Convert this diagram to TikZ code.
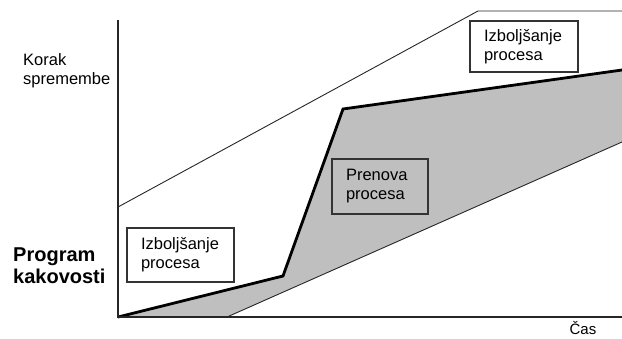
\documentclass[tikz,border=0pt]{standalone}
\usepackage{fontspec}
\setmainfont{Liberation Sans}
\begin{document}
\begin{tikzpicture}[x=1pt,y=-1pt,
  thinline/.style={draw=black!85,line width=0.9pt},
  thickline/.style={draw=black,line width=2.8pt,line join=miter},
  region/.style={fill=black!25},
  labelbox/.style={draw=black!80,line width=1.1pt,align=left,
    inner xsep=14pt,inner ysep=0pt,font=\fontsize{16.5}{19}\selectfont},
  axislabel/.style={anchor=base west,align=left,inner sep=0pt,
    font=\fontsize{16.5}{19}\selectfont}]
\useasboundingbox (0,0) rectangle (622,338);

% named points of the curves
\coordinate (O) at (118,317);
\coordinate (ytop) at (118,20);
\coordinate (xend) at (622,317);
\coordinate (k1) at (283,276);
\coordinate (k2) at (343,109);
\coordinate (kend) at (622,70);
\coordinate (lstart) at (227,317);
\coordinate (lend) at (622,142);
\coordinate (ustart) at (118,207);
\coordinate (ukink) at (478,11);
\coordinate (uend) at (622,11);

% shaded band between the quality-programme path and the lower bound
\fill[region] (O) -- (k1) -- (k2) -- (kend) -- (lend) -- (lstart) -- cycle;
\draw[thinline] (lstart) -- (lend);
\draw[thinline] (ustart) -- (ukink) -- (uend);
\draw[thickline] (O) -- (k1) -- (k2) -- (kend);

% axes
\draw[line width=1.1pt,black!85] (ytop) -- (O) -- (xend);

% boxes
\node[labelbox,fill=white,minimum width=107pt,minimum height=54pt,text width=79pt]
  (b1) at (180.5,255) {Izboljšanje\\procesa};
\node[labelbox,fill=white,minimum width=108pt,minimum height=51pt,text width=80pt]
  (b2) at (524,46.5) {Izboljšanje\\procesa};
\node[labelbox,fill=black!25,minimum width=96pt,minimum height=55pt,text width=68pt]
  (b3) at (380,186.5) {Prenova\\procesa};

% axis labels
\node[axislabel] (ylab) at (23,84) {Korak\\spremembe};
\node[axislabel,font=\bfseries\fontsize{20}{22}\selectfont] (prog) at (13,283) {Program\\kakovosti};
\node[anchor=base,inner sep=0pt,font=\fontsize{15}{17}\selectfont] (xlab) at (583,334) {Čas};
\end{tikzpicture}
\end{document}
